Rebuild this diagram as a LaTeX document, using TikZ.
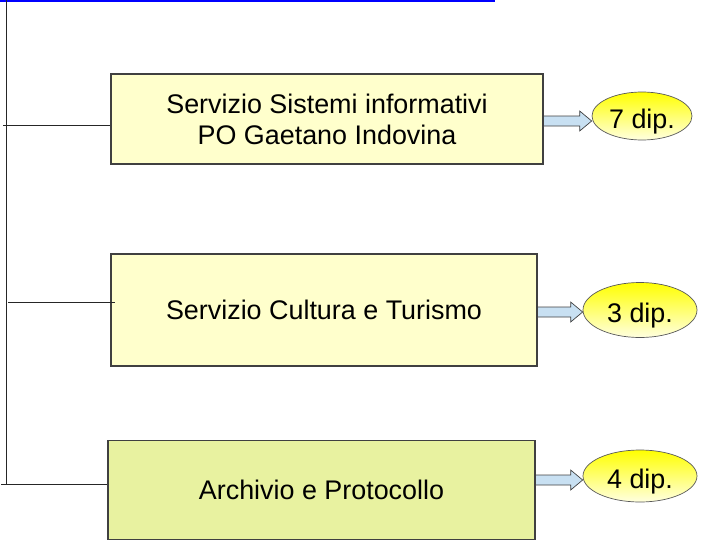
\documentclass[tikz,border=0pt]{standalone}
\usepackage{fontspec}
\setmainfont{Liberation Sans}
\usetikzlibrary{calc,shapes.geometric}
\definecolor{boxpale}{RGB}{255,255,204}
\definecolor{boxgreen}{RGB}{232,242,160}
\definecolor{arrowblue}{RGB}{200,224,242}
\definecolor{edgegray}{RGB}{64,64,64}
\tikzset{
  unitbox/.style={draw=edgegray, line width=1.1pt, rectangle, inner sep=0pt, align=center,
    font=\fontsize{26.9}{31}\selectfont},
  depell/.style={ellipse, draw=gray!70!black, line width=0.7pt, inner sep=0pt,
    text height=25pt, text depth=0pt,
    top color=yellow, bottom color=yellow!12!white, font=\fontsize{26.9}{31}\selectfont},
  fatarr/.style={draw=edgegray, line width=0.7pt, fill=arrowblue, line join=miter},
  orgline/.style={draw=black!85, line width=0.9pt}
}
\newcommand{\fatarrow}[2]{%
  \path[fatarr] let \p1=(#1), \p2=(#2) in
    (\x1,\y1+5pt) -- (\x2-12pt,\y1+5pt) -- (\x2-12pt,\y1+10pt) -- (\x2,\y1)
    -- (\x2-12pt,\y1-10pt) -- (\x2-12pt,\y1-5pt) -- (\x1,\y1-5pt) -- cycle;}
\begin{document}
\begin{tikzpicture}[x=1pt,y=-1pt]
\useasboundingbox (0,0) rectangle (707,541);
% top blue rule
\coordinate (bl) at (0,1);
\coordinate (br) at (495,1);
\draw[blue, line width=2pt] (bl) -- (br);
% boxes
\node[unitbox, fill=boxpale, minimum width=432pt, minimum height=90pt] (b1) at (327,119)
  {Servizio Sistemi informativi\\PO Gaetano Indovina};
\node[unitbox, fill=boxpale, minimum width=426pt, minimum height=112pt] (b2) at (324,310)
  {Servizio Cultura e Turismo};
\node[unitbox, fill=boxgreen, minimum width=427pt, minimum height=99pt] (b3) at (321.5,490)
  {Archivio e Protocollo};
% ellipses
\node[depell, minimum width=100pt, minimum height=48pt] (e1) at (642,116) {7 dip.};
\node[depell, minimum width=114pt, minimum height=55pt] (e2) at (640,310) {3 dip.};
\node[depell, minimum width=114pt, minimum height=52pt] (e3) at (640,476) {4 dip.};
% org lines
\coordinate (vt) at (6,0);
\coordinate (vb) at (6,484);
\draw[orgline] (vt) -- (vb);
\coordinate (l1) at (3,125);
\coordinate (l2) at (8,302);
\coordinate (l3) at (1,484);
\draw[orgline] (l1) -- (l1 -| b1.west);
\draw[orgline] (l2) -- ([xshift=5pt]l2 -| b2.west);
\draw[orgline] (l3) -- (l3 -| b3.west);
% fat arrows
\coordinate (y1) at (0,121);
\coordinate (y2) at (0,312);
\coordinate (y3) at (0,480);
\coordinate (t1) at (b1.east |- y1);
\coordinate (h1) at (e1.west |- y1);
\coordinate (t2) at (b2.east |- y2);
\coordinate (h2) at (e2.west |- y2);
\coordinate (t3) at (b3.east |- y3);
\coordinate (h3) at (e3.west |- y3);
\fatarrow{t1}{h1}
\fatarrow{t2}{h2}
\fatarrow{t3}{h3}
\end{tikzpicture}
\end{document}
